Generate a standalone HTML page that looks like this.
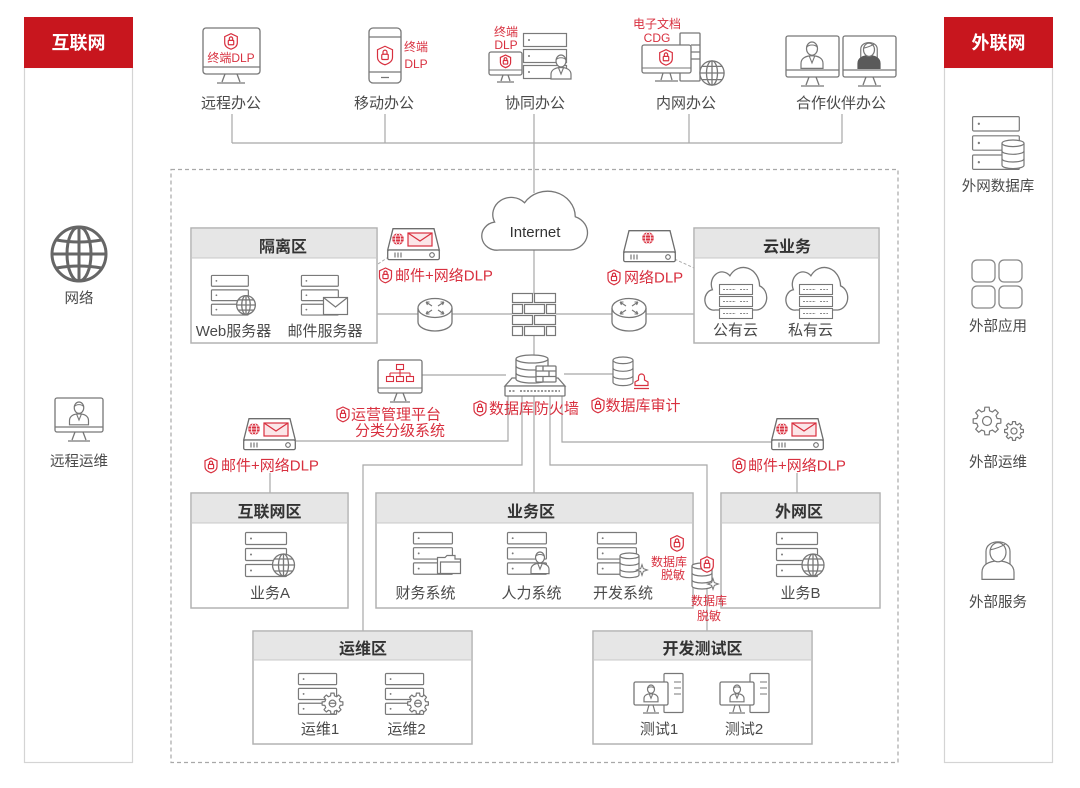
<!DOCTYPE html>
<html><head><meta charset="utf-8"><title>Network DLP Architecture</title>
<style>
html,body{margin:0;padding:0;background:#fff}
svg{display:block}
text{font-family:"Liberation Sans","Noto Sans CJK SC",sans-serif}
.lb{font-size:15px;fill:#4a4a4a}
.sl{font-size:14.5px;fill:#4a4a4a}
.tt{font-size:16px;font-weight:bold;fill:#333}
.rd{font-size:15px;fill:#d8303f}
.rs{font-size:12px;fill:#d8303f}
.ln{stroke:#a8a8a8;stroke-width:1.2;fill:none}
.ic{stroke:#777;stroke-width:1.3;fill:#fff}
.icn{stroke:#777;stroke-width:1.3;fill:none}
.bx{fill:#fff;stroke:#b2b2b2;stroke-width:1.5}
.hd{fill:#e6e6e6}
</style></head><body>
<svg width="1080" height="788" viewBox="0 0 1080 788" xmlns="http://www.w3.org/2000/svg">
<defs>
 <g id="srv">
  <rect x="0.5" y="0.5" width="41" height="12" rx="1" fill="#fff" stroke="#7a7a7a" stroke-width="1.2" vector-effect="non-scaling-stroke"/>
  <rect x="0.5" y="16.5" width="41" height="12" rx="1" fill="#fff" stroke="#7a7a7a" stroke-width="1.2" vector-effect="non-scaling-stroke"/>
  <rect x="0.5" y="32.5" width="41" height="12" rx="1" fill="#fff" stroke="#7a7a7a" stroke-width="1.2" vector-effect="non-scaling-stroke"/>
  <circle cx="6" cy="6.5" r="1" fill="#7a7a7a"/>
  <circle cx="6" cy="22.5" r="1" fill="#7a7a7a"/>
  <circle cx="6" cy="38.5" r="1" fill="#7a7a7a"/>
 </g>
 <g id="globe" fill="none" stroke="#777" stroke-width="1.3">
  <circle r="11" fill="#fff" vector-effect="non-scaling-stroke"/>
  <ellipse rx="5" ry="11" vector-effect="non-scaling-stroke"/>
  <line x1="0" y1="-11" x2="0" y2="11" vector-effect="non-scaling-stroke"/>
  <line x1="-11" y1="0" x2="11" y2="0" vector-effect="non-scaling-stroke"/>
  <line x1="-9.2" y1="-6" x2="9.2" y2="-6" vector-effect="non-scaling-stroke"/>
  <line x1="-9.2" y1="6" x2="9.2" y2="6" vector-effect="non-scaling-stroke"/>
 </g>
 <g id="sh" fill="#fff" stroke="#d8303f" stroke-width="1.2">
  <path d="M0,-7 L6,-4.2 V1.8 C6,5 3.2,6.8 0,7.8 C-3.2,6.8 -6,5 -6,1.8 V-4.2 Z" vector-effect="non-scaling-stroke"/>
  <rect x="-2.6" y="-0.6" width="5.2" height="4.2" rx="0.8" fill="none" vector-effect="non-scaling-stroke"/>
  <path d="M-1.6,-0.6 V-2.3 A1.6,1.6 0 0 1 1.6,-2.3 V-0.6" fill="none" vector-effect="non-scaling-stroke"/>
 </g>
 <g id="man">
  <path d="M-10,24 V19.5 C-10,15 -6,12.5 0,12.5 C6,12.5 10,15 10,19.5 V24 Z" fill="#fff" stroke="#777" stroke-width="1.2" vector-effect="non-scaling-stroke"/>
  <path d="M-2.5,12.8 L0,19 L2.5,12.8" fill="none" stroke="#777" stroke-width="1.1" vector-effect="non-scaling-stroke"/>
  <ellipse cx="0" cy="6" rx="5" ry="6" fill="#fff" stroke="#777" stroke-width="1.2" vector-effect="non-scaling-stroke"/>
  <path d="M-5,5 C-3,2 3,2 5,5" fill="none" stroke="#777" stroke-width="1" vector-effect="non-scaling-stroke"/>
 </g>
 <g id="woman">
  <path d="M-7.5,16 V6.5 C-7.5,-1.5 7.5,-1.5 7.5,6.5 V16 Z" fill="#fff" stroke="#777" stroke-width="1.2" vector-effect="non-scaling-stroke"/>
  <path d="M-10,24 V19.5 C-10,15 -6,12.5 0,12.5 C6,12.5 10,15 10,19.5 V24 Z" fill="#5a5a5a" stroke="#5a5a5a" stroke-width="1.2" vector-effect="non-scaling-stroke"/>
  <ellipse cx="0" cy="7" rx="5" ry="6" fill="#fff" stroke="#777" stroke-width="1.2" vector-effect="non-scaling-stroke"/>
  <path d="M-5,5.5 C-2,5 2,3.5 4.5,2" fill="none" stroke="#777" stroke-width="1.1" vector-effect="non-scaling-stroke"/>
 </g>
 <g id="woman2">
  <path d="M-7.5,16 V6.5 C-7.5,-1.5 7.5,-1.5 7.5,6.5 V16 Z" fill="#fff" stroke="#777" stroke-width="1.2" vector-effect="non-scaling-stroke"/>
  <path d="M-10,24 V19.5 C-10,15 -6,12.5 0,12.5 C6,12.5 10,15 10,19.5 V24 Z" fill="#fff" stroke="#777" stroke-width="1.2" vector-effect="non-scaling-stroke"/>
  <ellipse cx="0" cy="7" rx="5" ry="6" fill="#fff" stroke="#777" stroke-width="1.2" vector-effect="non-scaling-stroke"/>
  <path d="M-5,5.5 C-2,5 2,3.5 4.5,2" fill="none" stroke="#777" stroke-width="1.1" vector-effect="non-scaling-stroke"/>
 </g>
 <g id="dbs">
  <path d="M0,3 V23 A10,3 0 0 0 20,23 V3" fill="#fff" stroke="#777" stroke-width="1.2" vector-effect="non-scaling-stroke"/>
  <ellipse cx="10" cy="3" rx="10" ry="3" fill="#fff" stroke="#777" stroke-width="1.2" vector-effect="non-scaling-stroke"/>
  <path d="M0,10 A10,3 0 0 0 20,10 M0,17 A10,3 0 0 0 20,17" fill="none" stroke="#777" stroke-width="1.2" vector-effect="non-scaling-stroke"/>
 </g>
 <path id="gear" d="M7.28,-1.81 L9.88,-1.56 L9.88,1.56 L7.28,1.81 L6.43,3.86 L8.09,5.88 L5.88,8.09 L3.86,6.43 L1.81,7.28 L1.56,9.88 L-1.56,9.88 L-1.81,7.28 L-3.86,6.43 L-5.88,8.09 L-8.09,5.88 L-6.43,3.86 L-7.28,1.81 L-9.88,1.56 L-9.88,-1.56 L-7.28,-1.81 L-6.43,-3.86 L-8.09,-5.88 L-5.88,-8.09 L-3.86,-6.43 L-1.81,-7.28 L-1.56,-9.88 L1.56,-9.88 L1.81,-7.28 L3.86,-6.43 L5.88,-8.09 L8.09,-5.88 L6.43,-3.86 Z M3.2,0 A3.2,3.2 0 1 0 -3.2,0 A3.2,3.2 0 1 0 3.2,0 Z" fill="#fff" stroke="#777" stroke-width="1.2" stroke-linejoin="round" vector-effect="non-scaling-stroke"/>
 <path id="star" d="M0,-6 L1.5,-1.5 L6,0 L1.5,1.5 L0,6 L-1.5,1.5 L-6,0 L-1.5,-1.5 Z" fill="#fff" stroke="#777" stroke-width="1.1"/>
 <g id="env">
  <rect x="0.5" y="0.5" width="24" height="17" fill="#fff" stroke="#777" stroke-width="1.2"/>
  <path d="M0.5,0.5 L12.5,10 L24.5,0.5" fill="none" stroke="#777" stroke-width="1.2"/>
 </g>
 <g id="dev">
  <path d="M6,0.7 H47 L52.3,22 H0.7 Z" fill="#fff" stroke="#6d6d6d" stroke-width="1.3"/>
  <rect x="0.7" y="22" width="51.6" height="9.6" rx="1.5" fill="#fff" stroke="#6d6d6d" stroke-width="1.3"/>
  <path d="M8,24.5 v5 M11,24.5 v5 M14,24.5 v5" stroke="#6d6d6d" stroke-width="1.1"/>
  <circle cx="45" cy="27" r="2.3" fill="none" stroke="#6d6d6d" stroke-width="1.1"/>
 </g>
 <g id="rglobe">
  <circle r="5.8" fill="#d8303f"/>
  <g fill="none" stroke="#fff" stroke-width="0.8">
   <ellipse rx="2.5" ry="5.8"/>
   <line x1="-5.8" y1="0" x2="5.8" y2="0"/>
   <line x1="-5" y1="-3" x2="5" y2="-3"/>
   <line x1="-5" y1="3" x2="5" y2="3"/>
  </g>
 </g>
 <g id="renv">
  <rect x="0" y="0" width="24" height="13" fill="#fbe6e8" stroke="#d8303f" stroke-width="1.2"/>
  <path d="M0,0 L12,8 L24,0" fill="none" stroke="#d8303f" stroke-width="1.2"/>
 </g>
 <path id="cloud" d="M20,58 H82 A16,16 0 0 0 86,27 A24,24 0 0 0 42,14 A16,16 0 0 0 16,32 A13,13 0 0 0 20,58 Z" fill="#fff" stroke="#777" stroke-width="1.3" vector-effect="non-scaling-stroke"/>
 <g id="csrv">
  <rect x="0.5" y="0.5" width="33" height="10" fill="#fff" stroke="#777" stroke-width="1.1"/>
  <rect x="0.5" y="12.5" width="33" height="10" fill="#fff" stroke="#777" stroke-width="1.1"/>
  <rect x="0.5" y="24.5" width="33" height="10" fill="#fff" stroke="#777" stroke-width="1.1"/>
  <path d="M4,5.5 H17 M21,5.5 H29 M4,17.5 H17 M21,17.5 H29 M4,29.5 H17 M21,29.5 H29" stroke="#888" stroke-width="1" stroke-dasharray="2 1.2"/>
 </g>
 <g id="router">
  <path d="M-17,0 V14 A17,9 0 0 0 17,14 V0" fill="#fff" stroke="#777" stroke-width="1.3"/>
  <ellipse cx="0" cy="0" rx="17" ry="9.5" fill="#fff" stroke="#777" stroke-width="1.3"/>
  <path d="M-3,-2 L-9,-6 M-9,-6 h3.5 M-9,-6 l1.5,3 M3,-2 L9,-6 M9,-6 h-3.5 M9,-6 l-1.5,3 M-3,2 L-9,6 M-9,6 h3.5 M-9,6 l1.5,-3 M3,2 L9,6 M9,6 h-3.5 M9,6 l-1.5,-3" fill="none" stroke="#777" stroke-width="1.1"/>
 </g>
 <g id="pc">
  <rect x="31" y="0.5" width="19" height="39" rx="1" fill="#fff" stroke="#777" stroke-width="1.2"/>
  <path d="M41,9 H48 M41,15 H48 M41,21 H48" stroke="#777" stroke-width="1.1"/>
  <rect x="1" y="9" width="34" height="23" rx="1.5" fill="#fff" stroke="#777" stroke-width="1.3"/>
  <path d="M16,32 L14,39 M20,32 L22,39 M10,40 H26" fill="none" stroke="#777" stroke-width="1.2"/>
 </g>
</defs>

<!-- Sidebars -->
<rect x="24.5" y="67.5" width="108" height="695" fill="#fff" stroke="#d4d4d4" stroke-width="1.2"/>
<rect x="24" y="17" width="109" height="51" fill="#c8161e"/>
<text x="78.5" y="49" text-anchor="middle" font-size="18" font-weight="bold" fill="#fff">互联网</text>
<rect x="944.5" y="67.5" width="108" height="695" fill="#fff" stroke="#d4d4d4" stroke-width="1.2"/>
<rect x="944" y="17" width="109" height="51" fill="#c8161e"/>
<text x="998.5" y="49" text-anchor="middle" font-size="18" font-weight="bold" fill="#fff">外联网</text>

<!-- Left sidebar icons -->
<g transform="translate(79,254)" fill="none" stroke="#666" stroke-width="3">
 <circle r="27"/>
 <ellipse rx="12" ry="27"/>
 <line x1="0" y1="-27" x2="0" y2="27"/>
 <line x1="-27" y1="0" x2="27" y2="0"/>
 <path d="M-22.5,-14 Q0,-10 22.5,-14 M-22.5,14 Q0,10 22.5,14"/>
</g>
<text x="79" y="303" text-anchor="middle" class="sl">网络</text>
<rect x="55" y="398" width="48" height="34" rx="2" class="ic"/>
<line x1="55" y1="427" x2="103" y2="427" stroke="#777" stroke-width="1.2"/>
<path d="M75,432 L72,440 M83,432 L86,440 M68,441 H90" class="icn"/>
<use href="#man" transform="translate(79,402) scale(0.95)"/>
<text x="79" y="466" text-anchor="middle" class="sl">远程运维</text>

<!-- Right sidebar icons -->
<use href="#srv" transform="translate(972,116) scale(1.14,1.2)"/>
<use href="#dbs" transform="translate(1002,140) scale(1.1)"/>
<text x="998" y="191" text-anchor="middle" class="sl">外网数据库</text>
<g fill="none" stroke="#888" stroke-width="1.3">
 <rect x="972" y="260" width="23" height="22" rx="5"/>
 <rect x="999" y="260" width="23" height="22" rx="5"/>
 <rect x="972" y="286" width="23" height="22" rx="5"/>
 <rect x="999" y="286" width="23" height="22" rx="5"/>
</g>
<text x="998" y="331" text-anchor="middle" class="sl">外部应用</text>
<use href="#gear" transform="translate(987,421) scale(1.4)"/>
<use href="#gear" transform="translate(1014,431) scale(0.95)"/>
<text x="998" y="467" text-anchor="middle" class="sl">外部运维</text>
<use href="#woman2" transform="translate(998,541) scale(1.6)"/>
<text x="998" y="607" text-anchor="middle" class="sl">外部服务</text>

<!-- Top bus lines -->
<path class="ln" d="M232,114 V143 M385,114 V143 M689,114 V143 M842,114 V143 M232,143 H842 M534,114 V193"/>

<!-- 远程办公 -->
<rect x="203" y="28" width="57" height="46" rx="3" class="ic"/>
<line x1="203" y1="67" x2="260" y2="67" stroke="#777" stroke-width="1.2"/>
<path d="M225,74 L222,82 M237,74 L240,82 M217,83 H245" class="icn"/>
<use href="#sh" transform="translate(231,41) scale(1.05)"/>
<text x="231" y="62" text-anchor="middle" class="rs">终端DLP</text>
<text x="231" y="108" text-anchor="middle" class="lb">远程办公</text>

<!-- 移动办公 -->
<rect x="369" y="28" width="32" height="55" rx="4" class="ic"/>
<path d="M369,37 H401 M369,72 H401 M381,77.5 H389" class="icn"/>
<use href="#sh" transform="translate(385,55) scale(1.25)"/>
<text x="416" y="51" text-anchor="middle" class="rs">终端</text>
<text x="416" y="68" text-anchor="middle" class="rs">DLP</text>
<text x="384" y="108" text-anchor="middle" class="lb">移动办公</text>

<!-- 协同办公 -->
<text x="506" y="36" text-anchor="middle" class="rs">终端</text>
<text x="506" y="49" text-anchor="middle" class="rs">DLP</text>
<g fill="#fff" stroke="#7a7a7a" stroke-width="1.2">
 <rect x="523.5" y="33.5" width="43" height="13"/>
 <rect x="523.5" y="49.5" width="43" height="13"/>
 <rect x="523.5" y="65.5" width="43" height="13"/>
</g>
<circle cx="529" cy="40" r="1" fill="#777"/><circle cx="529" cy="56" r="1" fill="#777"/><circle cx="529" cy="72" r="1" fill="#777"/>
<use href="#man" transform="translate(561,55)"/>
<rect x="489" y="52" width="33" height="23" rx="2" class="ic"/>
<line x1="489" y1="70" x2="522" y2="70" stroke="#777" stroke-width="1.1"/>
<path d="M503,75 L501,81 M508,75 L510,81 M497,82 H514" class="icn"/>
<use href="#sh" transform="translate(505.5,61) scale(0.85)"/>
<text x="535" y="108" text-anchor="middle" class="lb">协同办公</text>

<!-- 内网办公 -->
<text x="657" y="28" text-anchor="middle" class="rs">电子文档</text>
<text x="657" y="42" text-anchor="middle" class="rs">CDG</text>
<rect x="680" y="33" width="20" height="48" rx="1" class="ic"/>
<path d="M691,45 H700 M691,52 H700 M691,59 H700" class="icn"/>
<rect x="642" y="45" width="49" height="28" rx="2" class="ic"/>
<line x1="642" y1="68" x2="691" y2="68" stroke="#777" stroke-width="1.1"/>
<path d="M663,73 L661,80 M670,73 L672,80 M655,81 H678" class="icn"/>
<use href="#sh" transform="translate(666,57) scale(1.05)"/>
<use href="#globe" transform="translate(712,73) scale(1.1)"/>
<text x="686" y="108" text-anchor="middle" class="lb">内网办公</text>

<!-- 合作伙伴办公 -->
<rect x="786" y="36" width="53" height="41" rx="2" class="ic"/>
<rect x="843" y="36" width="53" height="41" rx="2" class="ic"/>
<path d="M786,70 H839 M843,70 H896" class="icn"/>
<path d="M809,77 L806,85 M816,77 L819,85 M801,86 H824 M866,77 L863,85 M873,77 L876,85 M858,86 H881" class="icn"/>
<use href="#man" transform="translate(812,42) scale(1.1)"/>
<use href="#woman" transform="translate(869,42) scale(1.1)"/>
<text x="841" y="108" text-anchor="middle" class="lb">合作伙伴办公</text>

<!-- Dashed main area -->
<rect x="171" y="169.5" width="727" height="593" fill="none" stroke="#a8a8a8" stroke-width="1.2" stroke-dasharray="4 3"/>

<!-- connectors in main area -->
<path class="ln" d="M534,250 V294 M534,335 V356
 M377,314 H418 M452,314 H512 M556,314 H612 M646,314 H694
 M422,375 H506 M564,374 H613
 M508,396 V441 H296
 M522,396 V465 H363 V631
 M534,396 V493
 M550,396 V465 H707 V631
 M562,396 V442 H771
 M270,473 V493 M797,473 V493"/>
<path d="M328,297 L390,256 M670,257 L716,278" stroke="#aaa" stroke-width="1" stroke-dasharray="3 2" fill="none"/>

<!-- Internet cloud -->
<use href="#cloud" transform="translate(476.2,187.7) scale(1.152,1.074)"/>
<text x="535" y="237" text-anchor="middle" font-size="15" fill="#333">Internet</text>

<!-- 隔离区 -->
<rect x="191" y="228" width="186" height="115" class="bx"/>
<rect x="192" y="229" width="184" height="29" class="hd"/>
<line x1="191" y1="258" x2="377" y2="258" stroke="#c8c8c8" stroke-width="1"/>
<text x="283" y="252" text-anchor="middle" class="tt">隔离区</text>
<use href="#srv" transform="translate(211,275) scale(0.9)"/>
<use href="#globe" transform="translate(246,305) scale(0.85)"/>
<use href="#srv" transform="translate(301,275) scale(0.9)"/>
<use href="#env" transform="translate(323,297)"/>
<text x="233.5" y="336" text-anchor="middle" class="lb">Web服务器</text>
<text x="325" y="336" text-anchor="middle" class="lb">邮件服务器</text>

<!-- 云业务 -->
<rect x="694" y="228" width="185" height="115" class="bx"/>
<rect x="695" y="229" width="183" height="29" class="hd"/>
<line x1="694" y1="258" x2="879" y2="258" stroke="#c8c8c8" stroke-width="1"/>
<text x="787" y="252" text-anchor="middle" class="tt">云业务</text>
<use href="#cloud" transform="translate(701.6,264.9) scale(0.674,0.778)"/>
<use href="#csrv" transform="translate(719,284)"/>
<use href="#cloud" transform="translate(782.6,264.9) scale(0.674,0.778)"/>
<use href="#csrv" transform="translate(799,284)"/>
<text x="735.5" y="335" text-anchor="middle" class="lb">公有云</text>
<text x="810.5" y="335" text-anchor="middle" class="lb">私有云</text>

<!-- Routers -->
<use href="#router" transform="translate(435,308)"/>
<use href="#router" transform="translate(629,308)"/>

<!-- Firewall bricks -->
<g fill="#fff" stroke="#777" stroke-width="1.2">
 <rect x="512.5" y="293.5" width="20" height="9"/><rect x="534.5" y="293.5" width="21" height="9"/>
 <rect x="512.5" y="304.5" width="10" height="9"/><rect x="524.5" y="304.5" width="20" height="9"/><rect x="546.5" y="304.5" width="9" height="9"/>
 <rect x="512.5" y="315.5" width="20" height="9"/><rect x="534.5" y="315.5" width="21" height="9"/>
 <rect x="512.5" y="326.5" width="10" height="9"/><rect x="524.5" y="326.5" width="20" height="9"/><rect x="546.5" y="326.5" width="9" height="9"/>
</g>

<!-- DB firewall -->
<path d="M512,378 H558 L565,386 H505 Z" class="ic"/>
<rect x="505" y="386" width="60" height="10" rx="1" class="ic"/>
<path d="M509,391 H515 M520,391 H560" stroke="#777" stroke-width="1.5" stroke-dasharray="2 1.5" fill="none"/>
<path d="M516,359 V379 A16,4 0 0 0 548,379 V359" class="ic"/>
<ellipse cx="532" cy="359" rx="16" ry="4" class="ic"/>
<path d="M516,366 A16,4 0 0 0 548,366 M516,373 A16,4 0 0 0 548,373" class="icn"/>
<rect x="536" y="366" width="20" height="16" rx="1" class="ic"/>
<path d="M536,371 H556 M536,376.5 H556 M543,366 V371 M549,371 V376.5 M543,376.5 V382" class="icn" stroke-width="1"/>

<!-- DLP device top-left -->
<use href="#dev" transform="translate(387,228)"/>
<use href="#rglobe" transform="translate(398,239)"/>
<use href="#renv" transform="translate(408,233)"/>
<use href="#sh" transform="translate(385.5,275)"/>
<text x="395" y="280.5" class="rd">邮件+网络DLP</text>

<!-- 网络DLP device -->
<use href="#dev" transform="translate(623,230)"/>
<use href="#rglobe" transform="translate(648,238)"/>
<use href="#sh" transform="translate(614,277)"/>
<text x="624" y="282.5" class="rd">网络DLP</text>

<!-- 运营管理平台 monitor -->
<rect x="378" y="360" width="44" height="33" rx="2" class="ic"/>
<line x1="378" y1="388" x2="422" y2="388" stroke="#777" stroke-width="1.1"/>
<path d="M397,393 L394,401 M403,393 L406,401 M390,402 H410" class="icn"/>
<g fill="none" stroke="#d8303f" stroke-width="1.1">
 <rect x="396.5" y="364.5" width="7" height="5"/>
 <path d="M400,369.5 V373 M390,373 H410 M390,373 V376 M400,373 V376 M410,373 V376"/>
 <rect x="386.5" y="376.5" width="7" height="5"/>
 <rect x="396.5" y="376.5" width="7" height="5"/>
 <rect x="406.5" y="376.5" width="7" height="5"/>
</g>
<use href="#sh" transform="translate(343,414)"/>
<text x="351" y="419.5" class="rd">运营管理平台</text>
<text x="355" y="435.5" class="rd">分类分级系统</text>

<!-- 数据库防火墙 label -->
<use href="#sh" transform="translate(480,408)"/>
<text x="489" y="413.5" class="rd">数据库防火墙</text>

<!-- 数据库审计 -->
<use href="#dbs" transform="translate(613,357) scale(1,1.1)"/>
<path d="M638.5,377 A3,3 0 1 1 644.5,377 V380 L648,382 V385.5 H635 V382 L638.5,380 Z M634,388.5 H649" fill="#fff" stroke="#d8303f" stroke-width="1.2"/>
<use href="#sh" transform="translate(598,405)"/>
<text x="605.5" y="410.5" class="rd">数据库审计</text>

<!-- Lower DLP devices -->
<use href="#dev" transform="translate(243,418)"/>
<use href="#rglobe" transform="translate(254,429)"/>
<use href="#renv" transform="translate(264,423)"/>
<use href="#sh" transform="translate(211,465)"/>
<text x="221" y="470.5" class="rd">邮件+网络DLP</text>
<use href="#dev" transform="translate(771,418)"/>
<use href="#rglobe" transform="translate(782,429)"/>
<use href="#renv" transform="translate(792,423)"/>
<use href="#sh" transform="translate(739,465)"/>
<text x="748" y="470.5" class="rd">邮件+网络DLP</text>

<!-- 互联网区 -->
<rect x="191" y="493" width="157" height="115" class="bx"/>
<rect x="192" y="494" width="155" height="29" class="hd"/>
<line x1="191" y1="523" x2="348" y2="523" stroke="#c8c8c8" stroke-width="1"/>
<text x="269.5" y="517" text-anchor="middle" class="tt">互联网区</text>
<use href="#srv" transform="translate(245,532)"/>
<use href="#globe" transform="translate(283.5,565)"/>
<text x="270" y="598" text-anchor="middle" class="lb">业务A</text>

<!-- 业务区 -->
<rect x="376" y="493" width="317" height="115" class="bx"/>
<rect x="377" y="494" width="315" height="29" class="hd"/>
<line x1="376" y1="523" x2="693" y2="523" stroke="#c8c8c8" stroke-width="1"/>
<text x="531" y="517" text-anchor="middle" class="tt">业务区</text>
<use href="#srv" transform="translate(413,532) scale(0.95)"/>
<path d="M437.5,557.5 H445 L447,555.5 H455 V559 H460.5 V573.5 H437.5 Z M440.5,573.5 V562 H460.5" fill="#fff" stroke="#777" stroke-width="1.2"/>
<use href="#srv" transform="translate(507,532) scale(0.95)"/>
<use href="#man" transform="translate(540,552) scale(0.9)"/>
<use href="#srv" transform="translate(597,532) scale(0.95)"/>
<use href="#dbs" transform="translate(620,553) scale(0.95)"/>
<use href="#star" transform="translate(642,570) scale(0.9)"/>
<use href="#sh" transform="translate(677,543) scale(1.05)"/>
<text x="669" y="566" text-anchor="middle" class="rs">数据库</text>
<text x="673" y="579" text-anchor="middle" class="rs">脱敏</text>
<text x="425.5" y="598" text-anchor="middle" class="lb">财务系统</text>
<text x="531.5" y="598" text-anchor="middle" class="lb">人力系统</text>
<text x="623" y="598" text-anchor="middle" class="lb">开发系统</text>

<!-- 外网区 -->
<rect x="721" y="493" width="159" height="115" class="bx"/>
<rect x="722" y="494" width="157" height="29" class="hd"/>
<line x1="721" y1="523" x2="880" y2="523" stroke="#c8c8c8" stroke-width="1"/>
<text x="799" y="517" text-anchor="middle" class="tt">外网区</text>
<use href="#srv" transform="translate(776,532)"/>
<use href="#globe" transform="translate(813,565)"/>
<text x="800.5" y="598" text-anchor="middle" class="lb">业务B</text>

<!-- masking on path to 开发测试区 (drawn over box edges) -->
<use href="#dbs" transform="translate(692,563)"/>
<use href="#star" transform="translate(713,584) scale(0.9)"/>
<use href="#sh" transform="translate(707,564) scale(1.05)"/>
<text x="709" y="605" text-anchor="middle" class="rs">数据库</text>
<text x="709" y="620" text-anchor="middle" class="rs">脱敏</text>

<!-- 运维区 -->
<rect x="253" y="631" width="219" height="113" class="bx"/>
<rect x="254" y="632" width="217" height="28" class="hd"/>
<line x1="253" y1="660" x2="472" y2="660" stroke="#c8c8c8" stroke-width="1"/>
<text x="363" y="654" text-anchor="middle" class="tt">运维区</text>
<use href="#srv" transform="translate(298,673) scale(0.93)"/>
<use href="#gear" transform="translate(332.5,703.5) scale(1.05)"/>
<use href="#srv" transform="translate(385,673) scale(0.93)"/>
<use href="#gear" transform="translate(418,703.5) scale(1.05)"/>
<text x="320" y="734" text-anchor="middle" class="lb">运维1</text>
<text x="406.5" y="734" text-anchor="middle" class="lb">运维2</text>

<!-- 开发测试区 -->
<rect x="593" y="631" width="219" height="113" class="bx"/>
<rect x="594" y="632" width="217" height="28" class="hd"/>
<line x1="593" y1="660" x2="812" y2="660" stroke="#c8c8c8" stroke-width="1"/>
<text x="702.5" y="654" text-anchor="middle" class="tt">开发测试区</text>
<use href="#pc" transform="translate(633,673)"/>
<use href="#man" transform="translate(651,685) scale(0.7)"/>
<use href="#pc" transform="translate(719,673)"/>
<use href="#man" transform="translate(737,685) scale(0.7)"/>
<text x="659" y="734" text-anchor="middle" class="lb">测试1</text>
<text x="744" y="734" text-anchor="middle" class="lb">测试2</text>

</svg>
</body></html>
